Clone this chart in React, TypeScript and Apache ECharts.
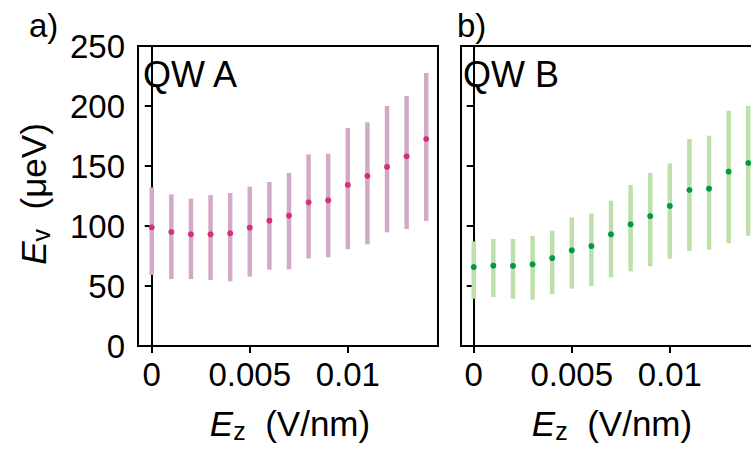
import React, { useEffect, useRef } from "react";
import * as echarts from "echarts";

const ez = [0, 0.001, 0.002, 0.003, 0.004, 0.005, 0.006, 0.007, 0.008, 0.009, 0.01, 0.011, 0.012, 0.013, 0.014];

const aMean = [98.9, 95, 93.1, 93.1, 93.9, 98.6, 104.4, 108.6, 119.7, 121.4, 134.2, 141.7, 149.2, 158.1, 172.5];
const aHigh = [132.2, 126.4, 122.8, 125.8, 127.5, 132.8, 136.7, 144.2, 159.7, 160.3, 181.7, 186.4, 200, 208.3, 227.5];
const aLow = [59.2, 55.8, 55.8, 55, 53.9, 57.8, 63.6, 63.9, 73, 73.9, 80.6, 84.7, 94.7, 97.5, 104.2];

const bMean = [65.8, 66.9, 66.7, 68.1, 73.3, 79.7, 83.3, 93.1, 101.4, 108.3, 116.7, 130, 131.1, 145.3, 152.5];
const bHigh = [87.2, 89.2, 89.2, 91.7, 96.1, 107.2, 110.3, 121.1, 134.2, 144.2, 152.2, 172.5, 175.3, 196.1, 200];
const bLow = [39.4, 40.8, 39.4, 38.6, 43.3, 47.8, 50, 57.2, 62.2, 66.4, 72.8, 79.2, 80.3, 85.6, 91.9];

const xTicks = [0, 0.005, 0.01];
const xTickLabels = ["0", "0.005", "0.01"];
const panelTitles = ["QW A", "QW B"];
const panelLetters = ["a)", "b)"];

const FONT = "'Liberation Sans', Arial, Helvetica, sans-serif";

export default function App() {
  const ref = useRef<HTMLDivElement>(null);
  useEffect(() => {
    document.body.style.margin = "0";
    if (!ref.current) return;
    const chart = echarts.init(ref.current, undefined, { renderer: "svg" });

    const mkX = (idx: number, min: number) => ({
      type: "value",
      gridIndex: idx,
      min,
      max: 0.0146,
      axisLine: { show: true, onZero: false, lineStyle: { color: "#000", width: 2 } },
      axisTick: { show: true, inside: false, length: 7, lineStyle: { color: "#000", width: 2 }, customValues: xTicks },
      axisLabel: {
        show: true,
        margin: 12,
        customValues: xTicks,
        fontSize: 33,
        fontFamily: FONT,
        color: "#000",
        formatter: (v: number) => {
          const i = xTicks.findIndex((t) => Math.abs(t - v) < 1e-9);
          return i >= 0 ? xTickLabels[i] : "";
        },
      },
      splitLine: { show: false },
    });
    const mkY = (idx: number, labels: boolean) => ({
      type: "value",
      gridIndex: idx,
      min: 0,
      max: 250,
      interval: 50,
      axisLine: { show: true, lineStyle: { color: "#000", width: 2 } },
      axisTick: { show: true, inside: false, length: 7, lineStyle: { color: "#000", width: 2 } },
      axisLabel: { show: labels, margin: 13, fontSize: 33, fontFamily: FONT, color: "#000" },
      splitLine: { show: false },
    });

    const errSeries = (idx: number, low: number[], high: number[], color: string) => ({
      type: "custom",
      xAxisIndex: idx,
      yAxisIndex: idx,
      data: ez.map((x, i) => [x, low[i], high[i]]),
      renderItem: (params: any, api: any) => {
        const x = api.value(0);
        const p1 = api.coord([x, api.value(2)]);
        const p2 = api.coord([x, api.value(1)]);
        return {
          type: "rect",
          shape: { x: p1[0] - 2.25, y: p1[1], width: 4.5, height: p2[1] - p1[1] },
          style: { fill: color },
        };
      },
      z: 2,
    });
    const dotSeries = (idx: number, mean: number[], color: string) => ({
      type: "scatter",
      xAxisIndex: idx,
      yAxisIndex: idx,
      data: ez.map((x, i) => [x, mean[i]]),
      symbol: "circle",
      symbolSize: 6,
      itemStyle: { color, opacity: 1 },
      z: 3,
    });

    const axisName = (x: number, y: number, sub: string, rotate: boolean) => ({
      type: "text",
      x,
      y,
      rotation: rotate ? Math.PI / 2 : 0,
      style: {
        text: `{e|E}{s|${sub}}{n|  (${rotate ? "μeV" : "V/nm"})}`,
        align: "center",
        verticalAlign: "middle",
        fill: "#000",
        rich: {
          e: { fontSize: 35, fontStyle: "italic", fontFamily: FONT, lineHeight: 40, fill: "#000" },
          s: { fontSize: 25, fontFamily: FONT, lineHeight: 25, verticalAlign: "bottom", fill: "#000" },
          n: { fontSize: 35, fontFamily: FONT, lineHeight: 40, fill: "#000" },
        },
      },
    });
    const label = (x: number, y: number, text: string, size: number) => ({
      type: "text",
      x,
      y,
      style: { text, fontSize: size, fontFamily: FONT, fill: "#000", align: "left", verticalAlign: "middle" },
    });

    chart.setOption({
      animation: false,
      backgroundColor: "#fff",
      grid: [
        { left: 138, top: 46, width: 300, height: 300, show: true, borderColor: "#000", borderWidth: 2, backgroundColor: "transparent", containLabel: false, outerBoundsMode: "none" },
        { left: 461, top: 46, width: 299, height: 300, show: true, borderColor: "#000", borderWidth: 2, backgroundColor: "transparent", containLabel: false, outerBoundsMode: "none" },
      ],
      xAxis: [mkX(0, -0.0007), mkX(1, -0.00065)],
      yAxis: [mkY(0, true), mkY(1, false)],
      series: [
        errSeries(0, aLow, aHigh, "#d3a9c8"),
        dotSeries(0, aMean, "#d4307e"),
        errSeries(1, bLow, bHigh, "#bedfaa"),
        dotSeries(1, bMean, "#00994a"),
      ],
      graphic: [
        label(29, 25, panelLetters[0], 33),
        label(457, 25, panelLetters[1], 33),
        label(143, 74, panelTitles[0], 36),
        label(463, 74, panelTitles[1], 36),
        axisName(290, 423, "z", false),
        axisName(612, 423, "z", false),
        axisName(33, 194, "v", true),
      ],
    });
    return () => chart.dispose();
  }, []);
  return <div ref={ref} style={{ width: 751, height: 456 }} />;
}
